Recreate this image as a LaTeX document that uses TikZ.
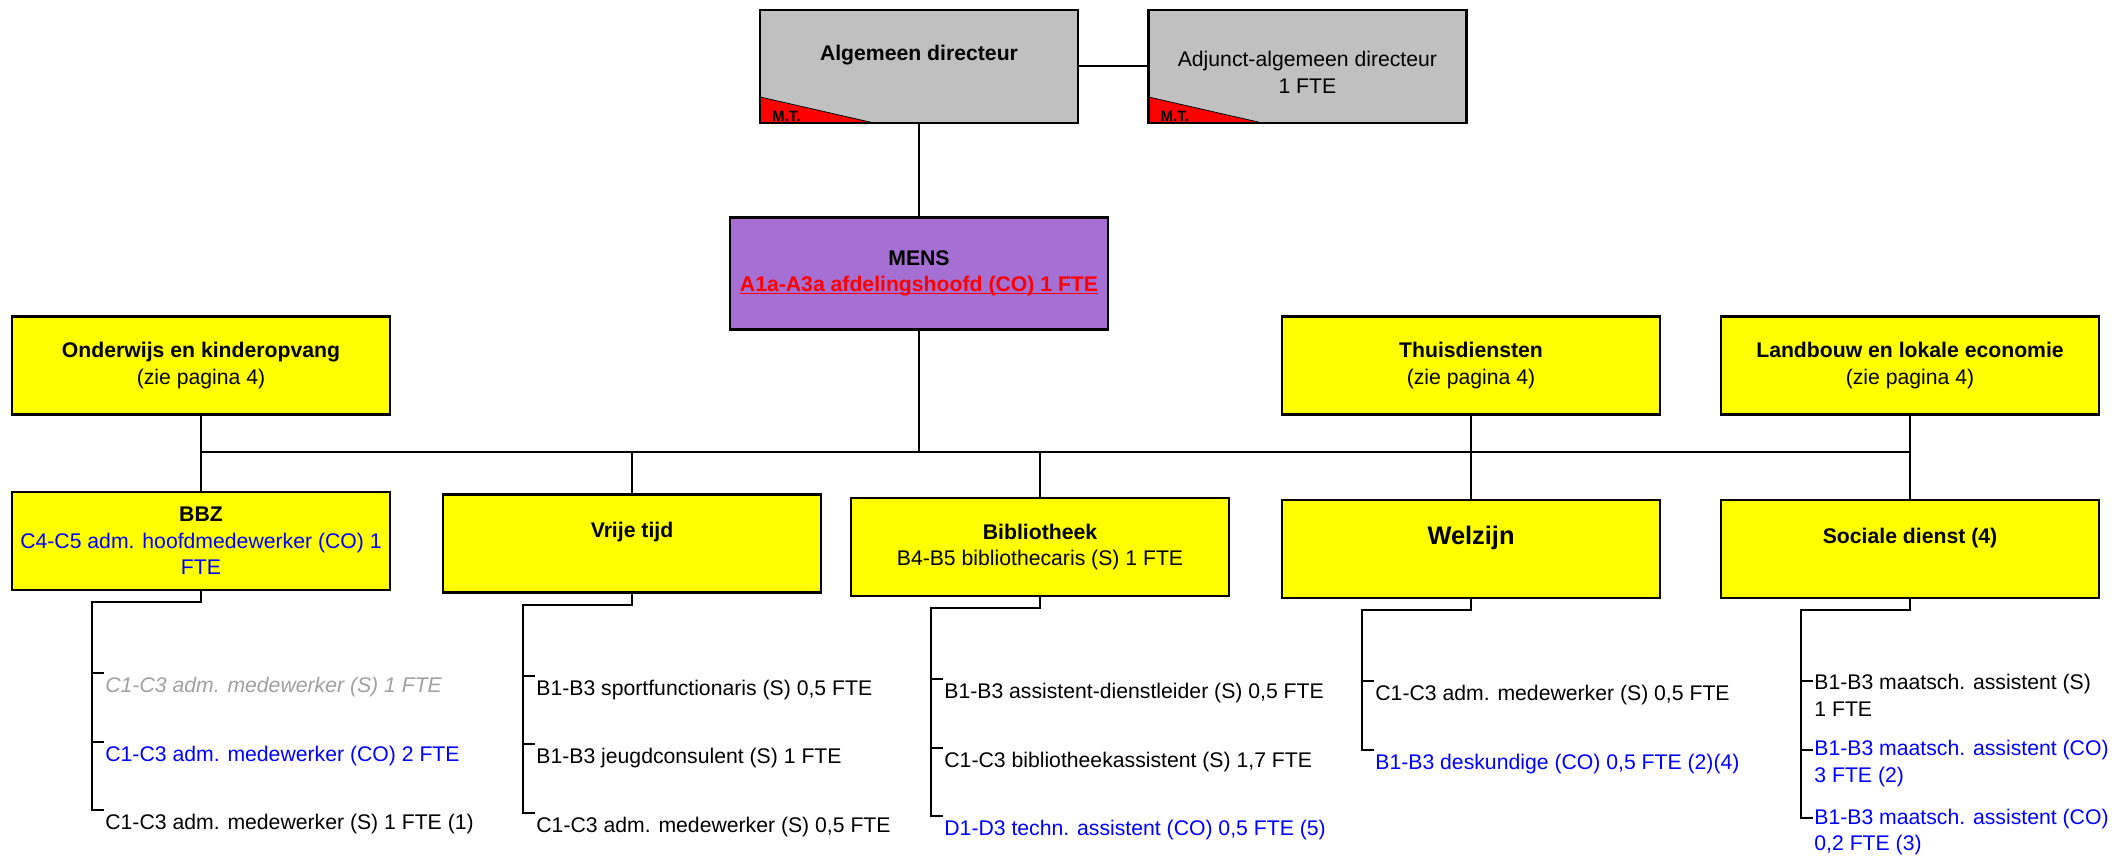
\documentclass[tikz,border=0pt]{standalone}
\usepackage{fontspec}
\setmainfont{Liberation Sans}
\usetikzlibrary{positioning}
\definecolor{mtgrey}{RGB}{192,192,192}
\definecolor{mensviolet}{RGB}{166,111,211}
\definecolor{deptyellow}{RGB}{255,255,0}
\definecolor{vacant}{RGB}{160,160,160}
\definecolor{coblue}{RGB}{0,0,255}
\definecolor{headred}{RGB}{255,0,0}
\newcommand{\orgfont}{\fontsize{10.6pt}{13.3pt}\selectfont}
\newcommand{\redline}[1]{\setbox0\hbox{#1}\rlap{\rule[-1.3pt]{\wd0}{0.6pt}}\box0}
\tikzstyle{dept} = [draw, line width=1.2pt, fill=deptyellow, minimum width=189pt, minimum height=49pt, inner sep=2pt, align=center, font=\orgfont]
\tikzstyle{chief} = [dept, fill=mtgrey, minimum width=159pt, minimum height=56.5pt,
  path picture={\filldraw[fill=headred, draw=black, line width=0.4pt] (path picture bounding box.south west) -- ++(0,-26) -- ++(114,26) -- cycle;}]
\tikzstyle{mt} = [anchor=west, inner sep=0pt, font=\fontsize{7.5pt}{9pt}\selectfont\bfseries]
\tikzstyle{job} = [anchor=west, inner sep=0pt, align=left, font=\orgfont]
\tikzstyle{link} = [draw, line width=1pt]

\begin{document}
\begin{tikzpicture}[x=0.5pt, y=-0.5pt]
\useasboundingbox (0,0) rectangle (2128,856);

\node[chief] (ad) at (919,66.5) {\textbf{Algemeen directeur}\\\mbox{}};
\node[chief, right=34pt of ad] (adj) {\mbox{}\\Adjunct-algemeen directeur\\1 FTE};
\node[mt] (admt) at ([shift={(13,-8)}]ad.south west) {M.T.};
\node[mt] (adjmt) at ([shift={(13,-8)}]adj.south west) {M.T.};
\node[dept, fill=mensviolet, minimum height=56pt, below=46pt of ad] (mens)
  {\textbf{MENS}\\\textcolor{headred}{\bfseries\redline{A1a-A3a afdelingshoofd (CO) 1 FTE}}};

\node[dept] (ond) at (201,365.5) {\textbf{Onderwijs en kinderopvang}\\(zie pagina 4)};
\node[dept] (thuis) at (1471,365.5) {\textbf{Thuisdiensten}\\(zie pagina 4)};
\node[dept] (landb) at (1910,365.5) {\textbf{Landbouw en lokale economie}\\(zie pagina 4)};

\node[dept, below=37.5pt of ond] (bbz)
  {\textbf{BBZ}\\\textcolor{coblue}{C4-C5 adm. hoofdmedewerker (CO) 1}\\\textcolor{coblue}{FTE}};
\node[dept] (vrije) at (632,543.5) {\textbf{Vrije tijd}\\\mbox{}};
\node[dept] (bib) at (1040,547) {\textbf{Bibliotheek}\\B4-B5 bibliothecaris (S) 1 FTE};
\node[dept, below=41.5pt of thuis] (welz) {{\fontsize{12.7pt}{15pt}\selectfont\bfseries Welzijn}\\\mbox{}};
\node[dept, below=41.5pt of landb] (soc) {\textbf{Sociale dienst (4)}\\\mbox{}};

% staff
\node[job, text=vacant, font=\orgfont\itshape] (bbz1) at ([shift={(-96,96)}]bbz.south) {C1-C3 adm. medewerker (S) 1 FTE};
\node[below=34.25pt of bbz1.west, job, text=coblue] (bbz2) {C1-C3 adm. medewerker (CO) 2 FTE};
\node[below=34.25pt of bbz2.west, job] (bbz3) {C1-C3 adm. medewerker (S) 1 FTE (1)};

\node[job] (vrije1) at ([shift={(-96,96)}]vrije.south) {B1-B3 sportfunctionaris (S) 0,5 FTE};
\node[below=34.25pt of vrije1.west, job] (vrije2) {B1-B3 jeugdconsulent (S) 1 FTE};
\node[below=34.25pt of vrije2.west, job] (vrije3) {C1-C3 adm. medewerker (S) 0,5 FTE};

\node[job] (bib1) at ([shift={(-96,96)}]bib.south) {B1-B3 assistent-dienstleider (S) 0,5 FTE};
\node[below=34.25pt of bib1.west, job] (bib2) {C1-C3 bibliotheekassistent (S) 1,7 FTE};
\node[below=34.25pt of bib2.west, job, text=coblue] (bib3) {D1-D3 techn. assistent (CO) 0,5 FTE (5)};

\node[job] (welz1) at ([shift={(-96,96)}]welz.south) {C1-C3 adm. medewerker (S) 0,5 FTE};
\node[below=34.25pt of welz1.west, job, text=coblue] (welz2) {B1-B3 deskundige (CO) 0,5 FTE (2)(4)};

\node[job] (soc1) at ([shift={(-96,96)}]soc.south) {B1-B3 maatsch. assistent (S)\\1 FTE};
\node[below=34.25pt of soc1.west, job, text=coblue] (soc2) {B1-B3 maatsch. assistent (CO)\\3 FTE (2)};
\node[below=34.25pt of soc2.west, job, text=coblue] (soc3) {B1-B3 maatsch. assistent (CO)\\0,2 FTE (3)};

\coordinate (bus) at (0,452);

\path[link]
(ad) edge (adj)
(ad) edge (mens)
(mens.south) edge (mens.south |- bus)
(ond.south |- bus) edge (landb.south |- bus)
(ond) edge (bbz)
(thuis) edge (welz)
(landb) edge (soc)
(vrije.north |- bus) edge (vrije.north)
(bib.north |- bus) edge (bib.north);

\draw[link] (bbz.south) -- ++(0,11) -| ([shift={(-13,-14)}]bbz3.west) -- ++(12,0);
\draw[link] ([shift={(-13,-14)}]bbz1.west) -- ++(12,0);
\draw[link] ([shift={(-13,-14)}]bbz2.west) -- ++(12,0);

\draw[link] (vrije.south) -- ++(0,11) -| ([shift={(-13,-14)}]vrije3.west) -- ++(12,0);
\draw[link] ([shift={(-13,-14)}]vrije1.west) -- ++(12,0);
\draw[link] ([shift={(-13,-14)}]vrije2.west) -- ++(12,0);

\draw[link] (bib.south) -- ++(0,11) -| ([shift={(-13,-14)}]bib3.west) -- ++(12,0);
\draw[link] ([shift={(-13,-14)}]bib1.west) -- ++(12,0);
\draw[link] ([shift={(-13,-14)}]bib2.west) -- ++(12,0);

\draw[link] (welz.south) -- ++(0,11) -| ([shift={(-13,-14)}]welz2.west) -- ++(12,0);
\draw[link] ([shift={(-13,-14)}]welz1.west) -- ++(12,0);

\draw[link] (soc.south) -- ++(0,11) -| ([shift={(-13,-14)}]soc3.west) -- ++(12,0);
\draw[link] ([shift={(-13,-14)}]soc1.west) -- ++(12,0);
\draw[link] ([shift={(-13,-14)}]soc2.west) -- ++(12,0);

\end{tikzpicture}
\end{document}
